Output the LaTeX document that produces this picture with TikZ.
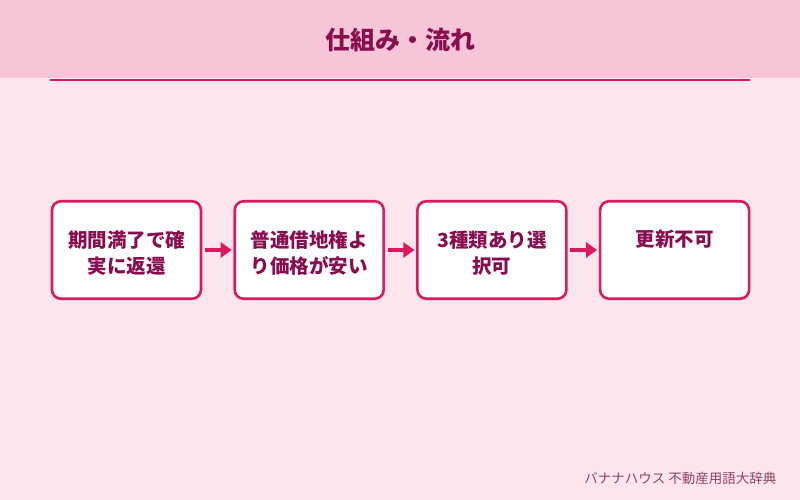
\documentclass[tikz,border=0pt]{standalone}
\usepackage{fontspec}
\usepackage{tikz}
\usetikzlibrary{arrows.meta, positioning}
\setmainfont{Noto Sans CJK JP}
\definecolor{pagebg}{HTML}{FDE5ED}
\definecolor{headbg}{HTML}{F8C5D8}
\definecolor{accent}{HTML}{D81B60}
\definecolor{deep}{HTML}{880E4F}
\definecolor{credit}{HTML}{8E4467}
\tikzset{
  flowbox/.style={
    rectangle, rounded corners=9pt,
    minimum width=149pt, minimum height=97.5pt,
    draw=accent, line width=2.6pt, fill=white, outer sep=0pt,
    text=deep, align=center, inner sep=0pt,
    font=\fontsize{19.5}{26}\selectfont\bfseries,
  },
  arrow/.style={-{Triangle[length=11pt, width=15pt]}, line width=3.6pt, color=accent,
    shorten <=4pt, shorten >=3pt},
}
% keep text at top of box, as in two-line boxes
\newcommand{\boxtext}[1]{\parbox[c][39pt][t]{140pt}{\centering #1}}

\begin{document}
\begin{tikzpicture}[x=1pt, y=1pt, node distance=33.7pt]

  \fill[pagebg] (0,0) rectangle (800,-500);
  \fill[headbg] (0,0) rectangle (800,-78);
  \draw[accent, line width=2pt] (50,-80.5) -- (750,-80.5);
  \useasboundingbox (0,0) rectangle (800,-500);

  \node[text=deep, font=\fontsize{25}{30}\selectfont\bfseries] (title) at (400,-40) {仕組み・流れ};

  \node[flowbox] (expire) at (126.5,-250) {\boxtext{期間満了で確\\実に返還}};
  \node[flowbox, right=of expire] (cheap) {\boxtext{普通借地権よ\\り価格が安い}};
  \node[flowbox, right=of cheap] (kinds) {\boxtext{3種類あり選\\択可}};
  \node[flowbox, right=of kinds] (norenew) {\boxtext{更新不可}};

  \draw[arrow] (expire) -- (cheap);
  \draw[arrow] (cheap) -- (kinds);
  \draw[arrow] (kinds) -- (norenew);

  \node[anchor=east, text=credit, font=\fontsize{13.5}{16}\selectfont] (credit) at (780,-478) {バナナハウス 不動産用語大辞典};

\end{tikzpicture}
\end{document}
